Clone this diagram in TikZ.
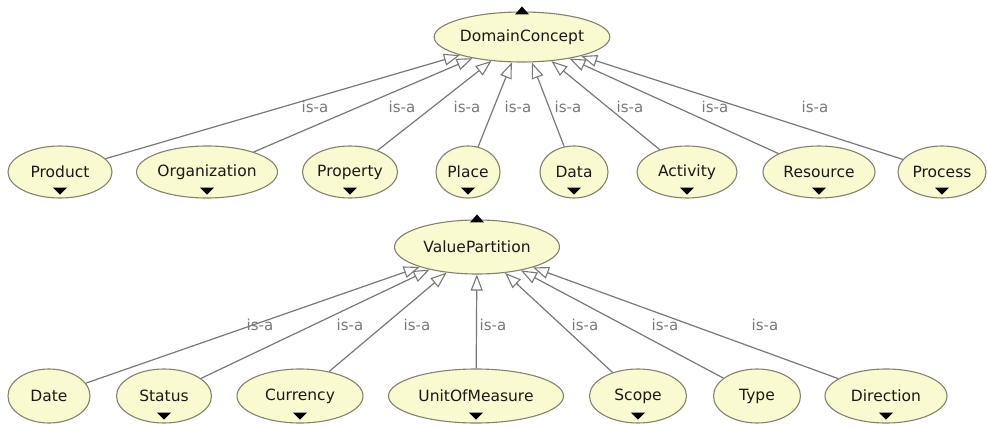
\documentclass[tikz,border=0pt]{standalone}
\usepackage{fontspec}
\setmainfont{DejaVu Sans}
\usetikzlibrary{shapes.geometric,arrows.meta}
\definecolor{cls}{RGB}{250,250,208}
\definecolor{clsborder}{RGB}{130,130,110}
\definecolor{edgegray}{RGB}{120,120,120}
\definecolor{lblgray}{RGB}{120,120,120}
\definecolor{ink}{RGB}{25,25,25}
\begin{document}
\begin{tikzpicture}[x=1pt,y=-1pt,
  cnode/.style={ellipse, draw=clsborder, line width=1.1pt, fill=cls, inner sep=0pt,
    text=ink, font=\fontsize{15.5}{17}\selectfont},
  isa/.style={draw=edgegray, line width=1.2pt,
    -{Triangle[length=16pt, width=12pt, fill=white, line width=1.1pt]}},
  lbl/.style={text=lblgray, inner sep=0pt, font=\fontsize{15}{17}\selectfont},
  expander/.style={fill=black}]
\useasboundingbox[fill=white] (0,0) rectangle (988,428);

% superclasses
\node[cnode, minimum width=160pt, minimum height=50pt] (dc) at (522,37) {DomainConcept};
\node[cnode, minimum width=165pt, minimum height=54pt] (vp) at (477,247) {ValuePartition};

% subclasses of DomainConcept
\node[cnode, minimum width=104pt, minimum height=52pt] (prod) at (60,172)  {Product};
\node[cnode, minimum width=141pt, minimum height=52pt] (org)  at (207,172) {Organization};
\node[cnode, minimum width=95pt,  minimum height=52pt] (prop) at (350,172) {Property};
\node[cnode, minimum width=64pt,  minimum height=52pt] (plc)  at (468,172) {Place};
\node[cnode, minimum width=68pt,  minimum height=52pt] (data) at (574,172) {Data};
\node[cnode, minimum width=100pt, minimum height=52pt] (act)  at (687,172) {Activity};
\node[cnode, minimum width=112pt, minimum height=52pt] (res)  at (819,172) {Resource};
\node[cnode, minimum width=88pt,  minimum height=52pt] (proc) at (942,172) {Process};

% subclasses of ValuePartition
\node[cnode, minimum width=82pt,  minimum height=54pt] (date) at (49,396)  {Date};
\node[cnode, minimum width=95pt,  minimum height=54pt] (stat) at (164,396) {Status};
\node[cnode, minimum width=126pt, minimum height=54pt] (cur)  at (300,396) {Currency};
\node[cnode, minimum width=175pt, minimum height=54pt] (uom)  at (476,396) {UnitOfMeasure};
\node[cnode, minimum width=97pt,  minimum height=54pt] (scp)  at (638,396) {Scope};
\node[cnode, minimum width=87pt,  minimum height=54pt] (typ)  at (757,396) {Type};
\node[cnode, minimum width=122pt, minimum height=54pt] (dir)  at (886,396) {Direction};

% is-a edges
\foreach \c in {prod,org,prop,plc,data,act,res,proc}
  \draw[isa] (\c) -- (dc);
\foreach \c in {date,stat,cur,uom,scp,typ,dir}
  \draw[isa] (\c) -- (vp);

% edge labels
\node[lbl] (la1) at (315,107) {is-a};
\node[lbl] (la2) at (402,107) {is-a};
\node[lbl] (la3) at (467,107) {is-a};
\node[lbl] (la4) at (518,107) {is-a};
\node[lbl] (la5) at (568,107) {is-a};
\node[lbl] (la6) at (630,107) {is-a};
\node[lbl] (la7) at (715,107) {is-a};
\node[lbl] (la8) at (815,107) {is-a};
\node[lbl] (lb1) at (260,325) {is-a};
\node[lbl] (lb2) at (350,325) {is-a};
\node[lbl] (lb3) at (417,325) {is-a};
\node[lbl] (lb4) at (493,325) {is-a};
\node[lbl] (lb5) at (585,325) {is-a};
\node[lbl] (lb6) at (665,325) {is-a};
\node[lbl] (lb7) at (765,325) {is-a};

% expand markers: superclass arrows on top, subclass arrows below
\foreach \n in {dc,vp}
  \fill[expander] ([shift={(-7,3)}]\n.north) -- ++(14,0) -- ++(-7,-8) -- cycle;
\foreach \n in {prod,org,prop,plc,data,act,res,proc,stat,cur,uom,scp,dir}
  \fill[expander] ([shift={(-7,-11)}]\n.south) -- ++(14,0) -- ++(-7,7) -- cycle;
\end{tikzpicture}
\end{document}
